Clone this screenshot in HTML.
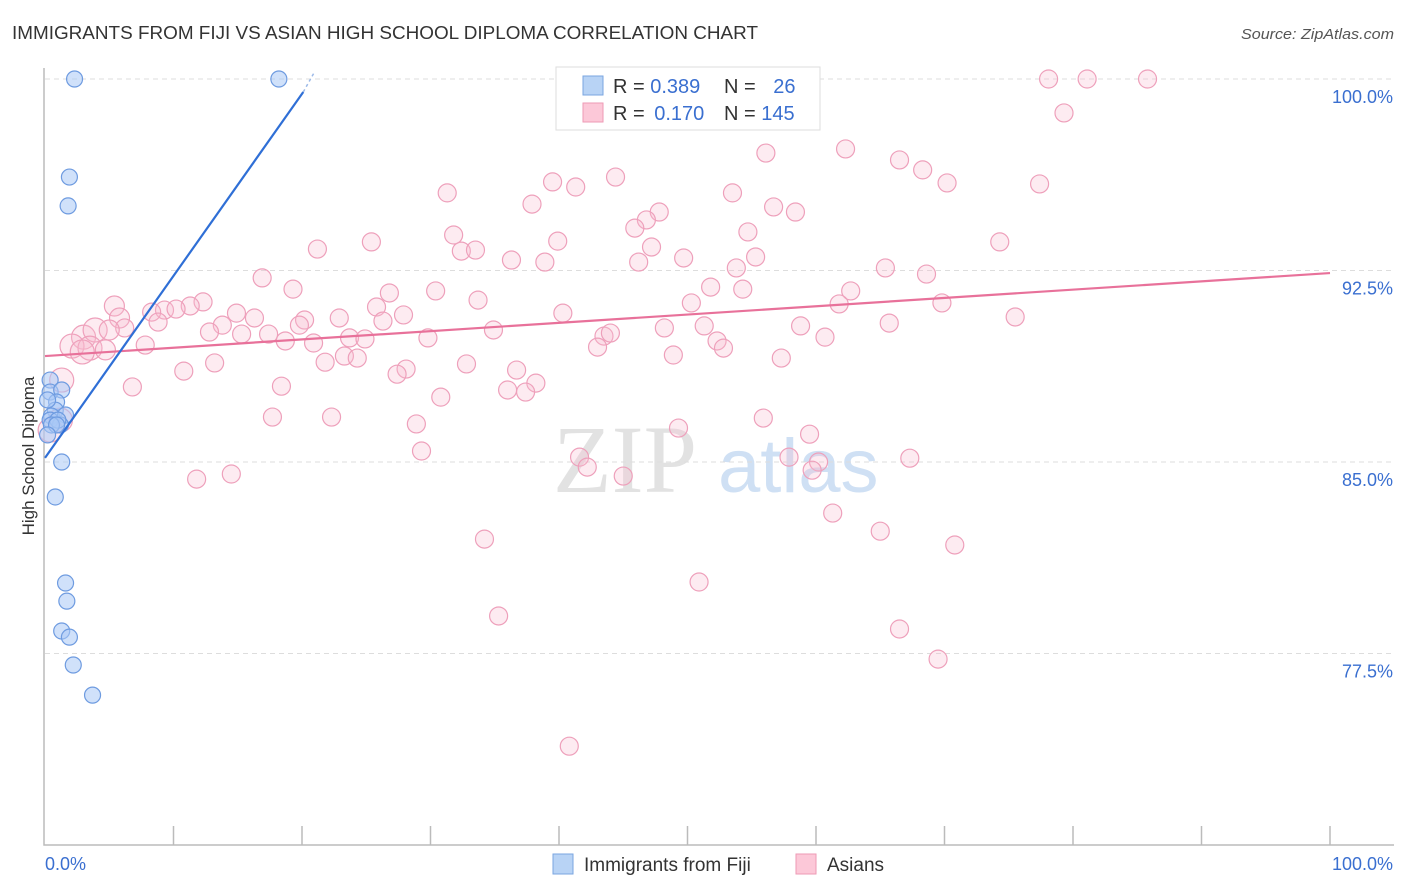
<!DOCTYPE html>
<html><head><meta charset="utf-8">
<style>
body{margin:0;background:#fff;font-family:"Liberation Sans",sans-serif;}
svg{display:block}
</style></head>
<body>
<svg id="chart" width="1406" height="892" xmlns="http://www.w3.org/2000/svg">
<text x="12" y="39" font-size="18" fill="#333" textLength="746" lengthAdjust="spacingAndGlyphs">IMMIGRANTS FROM FIJI VS ASIAN HIGH SCHOOL DIPLOMA CORRELATION CHART</text>
<text x="1241" y="39" font-size="15" fill="#555" font-style="italic" textLength="153" lengthAdjust="spacingAndGlyphs">Source: ZipAtlas.com</text>
<g>
<text x="553" y="492" font-size="96" font-family="Liberation Serif,serif" fill="#e2e2e2">ZIP</text>
<text x="718" y="492" font-size="76" fill="#cfe0f4">atlas</text>
</g>
<g id="grid"></g>
<g id="axes"></g>
<g id="marks"></g>
<text transform="translate(34,456) rotate(-90)" font-size="17" fill="#333" text-anchor="middle">High School Diploma</text>
<g>
<rect x="556" y="67" width="264" height="63" fill="#fff" stroke="#ddd"/>
<rect x="583" y="76" width="20" height="19" fill="#b8d3f5" stroke="#7aa6e0"/>
<rect x="583" y="103" width="20" height="19" fill="#fcc8d8" stroke="#ee9ab5"/>
<text x="613" y="93" font-size="20" fill="#333">R = <tspan fill="#3a6fd0">0.389</tspan></text>
<text x="724" y="93" font-size="20" fill="#333">N = <tspan fill="#3a6fd0" dx="12">26</tspan></text>
<text x="613" y="120" font-size="20" fill="#333">R = <tspan fill="#3a6fd0" dx="4">0.170</tspan></text>
<text x="724" y="120" font-size="20" fill="#333">N = <tspan fill="#3a6fd0">145</tspan></text>
</g>
<g>
<rect x="553" y="854" width="20" height="20" fill="#b8d3f5" stroke="#7aa6e0"/>
<text x="584" y="871" font-size="19" fill="#333">Immigrants from Fiji</text>
<rect x="796" y="854" width="20" height="20" fill="#fcc8d8" stroke="#ee9ab5"/>
<text x="827" y="871" font-size="19" fill="#333">Asians</text>
</g>
</svg>
<script>
const yTicks=[100,92.5,85,77.5];
const yTickLabels=["100.0%","92.5%","85.0%","77.5%"];
const xTickLabels=["0.0%","100.0%"];
const fijiX=[2.3,18.2,1.9,1.8,0.4,0.4,1.3,0.9,0.8,0.5,0.4,1.6,1.2,1.0,1.3,0.8,1.6,1.7,1.3,1.9,2.2,3.7,0.2,0.5,0.9,0.2];
const fijiY=[100,100,96.16,95.03,88.21,87.74,87.82,87.35,87.03,86.80,86.64,86.84,86.45,86.64,85.00,83.63,80.26,79.55,78.38,78.14,77.05,75.87,87.43,86.45,86.45,86.06];
const asianX=[78.1,81.1,85.8,79.3,77.4,62.3,56.1,66.5,68.3,70.2,53.5,44.4,39.5,41.3,31.3,37.9,56.7,58.4,47.8,46.8,45.9,54.7,74.3,39.9,31.8,25.4,21.2,32.4,33.5,47.2,36.3,38.9,46.2,49.7,55.3,53.8,65.4,68.6,16.9,19.3,26.8,30.4,33.7,51.8,54.3,62.7,61.8,69.8,75.5,50.3,5.4,9.3,12.3,11.3,10.2,8.3,14.9,16.3,20.2,22.9,25.8,27.9,40.3,5.8,8.8,6.2,13.8,12.8,15.3,17.4,19.8,26.3,34.9,29.8,48.2,51.3,58.8,65.7,3.0,3.9,2.1,3.5,4.7,7.8,5.0,18.7,20.9,23.7,24.9,21.8,23.3,24.3,43.5,44.0,43.0,52.3,52.8,60.7,57.3,48.9,32.8,10.8,13.2,28.1,27.4,36.7,38.2,36.0,37.4,18.4,6.8,1.3,30.8,17.7,22.3,28.9,29.3,55.9,49.3,59.5,41.6,42.2,45.0,57.9,60.2,59.7,67.3,11.8,14.5,61.3,65.0,70.8,34.2,50.9,35.3,66.5,69.5,40.8,2.9,1.2,0.4];
const asianY=[100,100,100,98.67,95.89,97.26,97.10,96.83,96.44,95.93,95.54,96.16,95.97,95.77,95.54,95.10,94.99,94.79,94.79,94.48,94.16,94.01,93.62,93.65,93.89,93.62,93.34,93.26,93.30,93.42,92.91,92.83,92.83,92.99,93.03,92.60,92.60,92.36,92.21,91.77,91.62,91.70,91.34,91.85,91.77,91.70,91.19,91.23,90.68,91.23,91.11,90.95,91.27,91.11,90.99,90.87,90.83,90.64,90.56,90.64,91.07,90.76,90.83,90.64,90.48,90.25,90.36,90.09,90.01,90.01,90.36,90.52,90.17,89.86,90.25,90.33,90.33,90.44,89.89,90.17,89.54,89.46,89.39,89.58,90.17,89.74,89.66,89.86,89.82,88.91,89.15,89.07,89.93,90.05,89.50,89.74,89.46,89.89,89.07,89.19,88.84,88.56,88.88,88.64,88.44,88.60,88.09,87.82,87.74,87.97,87.94,88.21,87.54,86.76,86.76,86.49,85.43,86.72,86.33,86.09,85.19,84.80,84.45,85.19,85.00,84.68,85.15,84.33,84.53,83.00,82.29,81.75,81.98,80.30,78.97,78.46,77.28,73.87,89.31,86.64,86.25];
const fijiTrend=[[0,85.16],[20.1,99.49]];
const fijiTrendDash=[[20.1,99.49],[21.0,100.3]];
const asianTrend=[[0,89.15],[100,92.4]];

const NS="http://www.w3.org/2000/svg";
const X0=45,X1=1330,Y100=79,PX_PER=191.5/7.5;
const sx=v=>X0+(X1-X0)*v/100;
const sy=v=>Y100+(100-v)*PX_PER;
function mk(tag,attrs,parent){const e=document.createElementNS(NS,tag);for(const k in attrs)e.setAttribute(k,attrs[k]);parent.appendChild(e);return e;}
const grid=document.getElementById('grid'),axes=document.getElementById('axes'),marks=document.getElementById('marks');
yTicks.forEach((t,i)=>{
  const l=mk('line',{x1:45,x2:1394,y1:sy(t),y2:sy(t),stroke:'#ddd','stroke-dasharray':'5,4'},grid);
  
  
  const tx=mk('text',{x:1393,y:sy(t)+24,'font-size':18,fill:'#3a6fd0','text-anchor':'end'},axes);
  tx.textContent=yTickLabels[i];
  
  
});
const ax=mk('path',{d:'M44,68 V845 H1394',fill:'none',stroke:'#bbb','stroke-width':1.5},axes);


for(let i=1;i<=10;i++){
  const t=mk('line',{x1:sx(i*10),x2:sx(i*10),y1:826,y2:845,stroke:'#bbb','stroke-width':1.5},axes);
  
  
}
[[0,'start',45],[100,'end',1393]].forEach((d,i)=>{
  const tx=mk('text',{x:d[2],y:870,'font-size':18,fill:'#3a6fd0','text-anchor':d[1]},axes);
  tx.textContent=xTickLabels[i];
  
  
});
asianX.forEach((x,i)=>{
  const r=x<6?(x<4?12:10):9;
  const c=mk('circle',{cx:sx(x),cy:sy(asianY[i]),r:r,fill:'rgba(250,190,210,0.3)',stroke:'#eea0bb','stroke-width':1.2},marks);
  
  
});
fijiX.forEach((x,i)=>{
  const c=mk('circle',{cx:sx(x),cy:sy(fijiY[i]),r:8,fill:'rgba(170,200,245,0.55)',stroke:'#6e9be0','stroke-width':1.2},marks);
  
  
});
const pt=mk('line',{x1:sx(asianTrend[0][0]),y1:sy(asianTrend[0][1]),x2:sx(asianTrend[1][0]),y2:sy(asianTrend[1][1]),stroke:'#e8719a','stroke-width':2.2},marks);


const bt=mk('line',{x1:sx(fijiTrend[0][0]),y1:sy(fijiTrend[0][1]),x2:sx(fijiTrend[1][0]),y2:sy(fijiTrend[1][1]),stroke:'#2f6fd6','stroke-width':2.2},marks);


const bd=mk('line',{x1:sx(fijiTrendDash[0][0]),y1:sy(fijiTrendDash[0][1]),x2:sx(fijiTrendDash[1][0]),y2:sy(fijiTrendDash[1][1]),stroke:'#9bb9e8','stroke-width':1.5,'stroke-dasharray':'3,3'},marks);


</script>
</body></html>
